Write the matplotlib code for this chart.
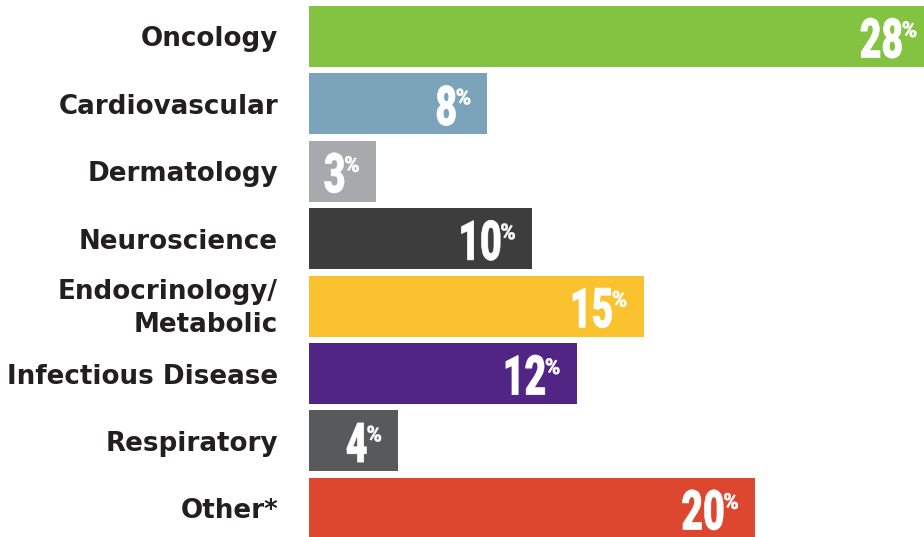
import matplotlib
matplotlib.use("Agg")
import matplotlib.pyplot as plt
from matplotlib.font_manager import FontProperties
from matplotlib.patches import PathPatch
from matplotlib.textpath import TextPath
from matplotlib.transforms import Affine2D, offset_copy

categories = ["Oncology", "Cardiovascular", "Dermatology", "Neuroscience",
              "Endocrinology/\nMetabolic", "Infectious Disease", "Respiratory", "Other*"]
values = [28, 8, 3, 10, 15, 12, 4, 20]
colors = ["#84C341", "#7BA3BA", "#A7A9AC", "#3D3D3D",
          "#FBC230", "#512584", "#58595B", "#DE472F"]

W, H, DPI = 924, 537, 100
fig = plt.figure(figsize=(W / DPI, H / DPI), dpi=DPI)
ax = fig.add_axes([309 / W, 0, 1 - 309 / W, 1])

px_per_unit = 22.3
pitch = 67.4
ax.set_xlim(0, (W - 309) / px_per_unit)
ax.set_ylim((H - 36.5) / pitch, -36.5 / pitch)
ax.axis("off")

ypos = list(range(len(categories)))
ax.barh(ypos, values, height=61 / pitch, color=colors)

label_font = dict(family="DejaVu Sans", weight="bold", size=18.8, color="#231F20")
num_prop = FontProperties(family="Roboto", weight=900)


def condensed_text(s, size, sx, anchor_x, anchor_y, halign, valign, lw):
    """Draw white text as a squeezed outline, in pixel coordinates."""
    half = lw * DPI / 72 / 2
    tp = TextPath((0, 0), s, size=size, prop=num_prop)
    ext = tp.get_extents()
    if halign == "right":
        dx = anchor_x - half - ext.x1 * sx
    else:
        dx = anchor_x + half - ext.x0 * sx
    if valign == "top":
        dy = anchor_y - half - ext.y1
    else:
        dy = anchor_y + half
    tr = Affine2D().scale(sx, 1.0).translate(dx, dy)
    patch = PathPatch(tr.transform_path(tp), facecolor="white", edgecolor="white",
                      linewidth=lw, joinstyle="round", transform=None, clip_on=False)
    fig.add_artist(patch)


for y, cat, v in zip(ypos, categories, values):
    # category label on the left, one text per line, baselines in pixels
    lines = cat.split("\n")
    line_gap = 33
    first_base = 10 - line_gap * (len(lines) - 1) / 2 - 0.5 * (len(lines) - 1)
    for i, line in enumerate(lines):
        tr = offset_copy(ax.transData, fig=fig, x=-31, y=-(first_base + i * line_gap),
                         units="dots")
        ax.text(0, y, line, transform=tr, ha="right", va="baseline", **label_font)
    # value label inside the bar end (pixel coordinates, origin bottom-left)
    end_x, cy = ax.transData.transform((v, y))
    condensed_text(str(v), 55, 0.68, end_x - 31.5, cy - 21.5, "right", "base", 0.5)
    condensed_text("%", 22, 0.95, end_x - 31, cy + 15.5, "left", "top", 0.3)

fig.savefig("out.png", dpi=DPI)
